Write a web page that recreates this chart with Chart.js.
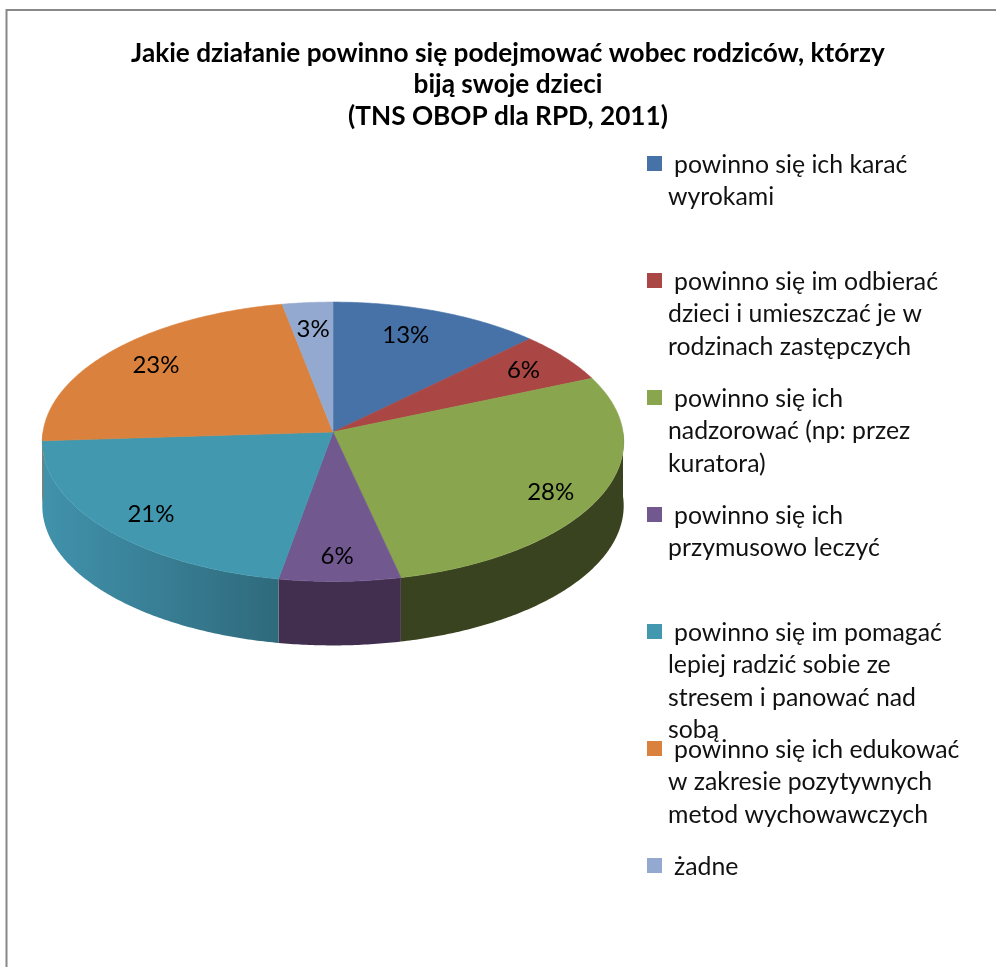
<!DOCTYPE html>
<html lang="pl">
<head>
<meta charset="utf-8">
<title>Jakie działanie</title>
<style>html,body{margin:0;padding:0;background:#fff}#w{position:relative;width:996px;height:967px}canvas{display:block}</style>
<script src="https://cdn.jsdelivr.net/npm/chart.js@4/dist/chart.umd.min.js"></script>
</head>
<body>
<div id="w"><canvas id="c" width="996" height="967"></canvas></div>
<script>
const titleLines = ['Jakie działanie powinno się podejmować wobec rodziców, którzy','biją swoje dzieci','(TNS OBOP dla RPD, 2011)'];
const categories = ['powinno się ich karać wyrokami','powinno się im odbierać dzieci i umieszczać je w rodzinach zastępczych','powinno się ich nadzorować (np: przez kuratora)','powinno się ich przymusowo leczyć','powinno się im pomagać lepiej radzić sobie ze stresem i panować nad sobą','powinno się ich edukować w zakresie pozytywnych metod wychowawczych','żadne'];
const legendLines = [
 ['powinno się ich karać','wyrokami'],
 ['powinno się im odbierać','dzieci i umieszczać je w','rodzinach zastępczych'],
 ['powinno się ich','nadzorować (np: przez','kuratora)'],
 ['powinno się ich','przymusowo leczyć'],
 ['powinno się im pomagać','lepiej radzić sobie ze','stresem i panować nad','sobą'],
 ['powinno się ich edukować','w zakresie pozytywnych','metod wychowawczych'],
 ['żadne']
];
// slice sizes (the printed labels are these, rounded)
const values = [12.6,5.9,28.0,6.3,21.2,23.0,3.0];
const topColors = ['#4672a8','#aa4644','#89a54e','#71588f','#4198af','#d9813d','#93a9cf'];
const sideDark  = ['#2c4668','#5e2726','#3a431f','#422f50','#2f6a7c','#8a5225','#5c6a82'];
const sideLight = ['#4672a8','#aa4644','#3a431f','#422f50','#4192ac','#d9813d','#93a9cf'];
const labelRadius = [.78,.82,.84,.84,.83,.805,.785];
const labelSpread = [.436,.49,.528,.515,.478,.506,.51];

// projection of the flat pie to the tilted disc
const K = 0.0698, A_OVER_R = 139/290, DEPTH = 64;
const LEGEND_FIRST = 163.5, LEGEND_GAP = 117, LINE_STEP = 32.5, TEXT_DROP = 1.5;
function project(el, ang, r){           // ang: Chart.js angle (0 = 3 o'clock)
  r = r === undefined ? 1 : r;
  const u = -Math.sin(ang)*r, s = Math.cos(ang)*r, w = 1 + K*u, R = el.outerRadius;
  return {x: el.x + R*s/w, y: el.y - R*A_OVER_R*u/w};
}
function rimPath(ctx, el, a0, a1, off){
  const n = Math.max(2, Math.ceil(Math.abs(a1-a0)/0.01));
  for(let i=0;i<=n;i++){
    const p = project(el, a0+(a1-a0)*i/n);
    ctx.lineTo(p.x, p.y + off);
  }
}
const tiltedPie = {
  id:'tiltedPie',
  beforeDatasetDraw(chart){
    const ctx = chart.ctx, els = chart.getDatasetMeta(0).data;
    ctx.save();
    // side wall: only the front half of the disc
    els.forEach((el,i)=>{
      const a0 = Math.max(el.startAngle, 0), a1 = Math.min(el.endAngle, Math.PI);
      if(a1 <= a0) return;
      const l = project(el,a1), r = project(el,a0);
      const g = ctx.createLinearGradient(l.x,0,r.x,0);
      g.addColorStop(0, sideLight[i]); g.addColorStop(1, sideDark[i]);
      ctx.beginPath();
      ctx.moveTo(r.x, r.y);
      rimPath(ctx, el, a0, a1, 0);
      rimPath(ctx, el, a1, a0, DEPTH);
      ctx.closePath();
      ctx.fillStyle = g;
      ctx.fill();
    });
    // top face
    els.forEach((el,i)=>{
      ctx.beginPath();
      ctx.moveTo(el.x, el.y);
      rimPath(ctx, el, el.startAngle, el.endAngle, 0);
      ctx.closePath();
      ctx.fillStyle = topColors[i];
      ctx.strokeStyle = topColors[i];
      ctx.lineWidth = 0.6;
      ctx.fill(); ctx.stroke();
    });
    ctx.restore();
    return false;
  }
};
const annotations = {
  id:'annotations',
  beforeDraw(chart){
    const ctx = chart.ctx;
    if(chart.titleBlock){ chart.titleBlock.left = 20; chart.titleBlock.right = 996; }
    ctx.save();
    ctx.fillStyle='#fff'; ctx.fillRect(0,0,996,967);
    ctx.strokeStyle='#888'; ctx.lineWidth=2;
    ctx.beginPath(); ctx.moveTo(6.5,967); ctx.lineTo(6.5,10); ctx.lineTo(996,10); ctx.stroke();
    ctx.restore();
  },
  afterDraw(chart){
    const ctx = chart.ctx;
    ctx.save();
    ctx.textBaseline='middle';
    ctx.textAlign='left';
    ctx.font='24.8px Lato';
    legendLines.forEach((lines,i)=>{
      const y0 = LEGEND_FIRST + i*LEGEND_GAP;
      ctx.fillStyle = topColors[i];
      ctx.fillRect(647, y0-7.5, 15, 15);
      ctx.fillStyle='#111';
      lines.forEach((t,j)=>{
        ctx.fillText(t, j===0 ? 674 : 668, y0 + TEXT_DROP + j*LINE_STEP);
      });
    });
    // value labels
    ctx.textAlign='center';
    ctx.fillStyle='#000';
    ctx.font='24px Lato';
    chart.getDatasetMeta(0).data.forEach((el,i)=>{
      const ang = el.startAngle + (el.endAngle-el.startAngle)*labelSpread[i];
      const p = project(el, ang, labelRadius[i]);
      ctx.fillText(Math.round(values[i])+'%', p.x, p.y);
    });
    ctx.restore();
  }
};

new Chart(document.getElementById('c'),{
  type:'pie',
  data:{labels:categories,datasets:[{data:values,backgroundColor:topColors,borderWidth:0}]},
  options:{
    responsive:false,animation:false,
    layout:{padding:{left:43,right:373,top:37.5,bottom:245}},
    plugins:{
      legend:{display:false},
      tooltip:{enabled:false},
      title:{display:true,text:titleLines,color:'#000',font:{family:'Lato',size:26.2,weight:'bold',lineHeight:1.2},padding:{top:0,bottom:10.2}}
    }
  },
  plugins:[annotations,tiltedPie]
});
</script>
</body>
</html>
